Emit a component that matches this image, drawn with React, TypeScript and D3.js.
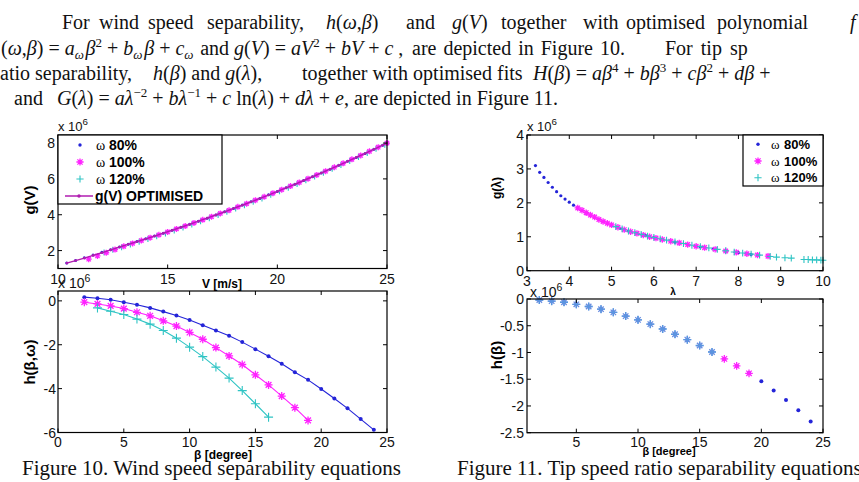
import React from "react";
import * as d3 from "d3";

// Figure 10 top: g(V) against wind speed
const optV = [10.4, 10.8, 11.2, 11.6, 12.0, 12.4, 12.8, 13.2, 13.6, 14.0, 14.4, 14.8, 15.2, 15.6, 16.0, 16.4, 16.8, 17.2, 17.6, 18.0, 18.4, 18.8, 19.2, 19.6, 20.0, 20.4, 20.8, 21.2, 21.6, 22.0, 22.4, 22.8, 23.2, 23.6, 24.0, 24.4, 24.8, 25.0];
const optG = [1.30, 1.44, 1.58, 1.73, 1.88, 2.04, 2.20, 2.35, 2.50, 2.65, 2.81, 2.97, 3.13, 3.30, 3.46, 3.64, 3.81, 3.99, 4.16, 4.35, 4.53, 4.72, 4.91, 5.10, 5.30, 5.50, 5.70, 5.91, 6.12, 6.33, 6.54, 6.76, 6.98, 7.20, 7.42, 7.65, 7.88, 8.00];
const gV80 = [10.4, 10.8, 11.2, 11.6, 12.0, 12.4, 12.8, 13.2, 13.6, 14.0, 14.4, 14.8, 15.2, 15.6, 16.0, 16.4, 16.8, 17.2, 17.6, 18.0, 18.4, 18.8, 19.2, 19.6, 20.0, 20.4, 20.8, 21.2, 21.6, 22.0, 22.4, 22.8, 23.2, 23.6, 24.0, 24.4, 24.8];
const gG80 = [1.30, 1.45, 1.60, 1.75, 1.90, 2.05, 2.20, 2.35, 2.50, 2.66, 2.81, 2.97, 3.13, 3.30, 3.47, 3.64, 3.81, 3.99, 4.17, 4.35, 4.54, 4.72, 4.91, 5.11, 5.30, 5.50, 5.70, 5.91, 6.12, 6.33, 6.54, 6.76, 6.98, 7.20, 7.42, 7.65, 7.88];
const gV100 = [11.4, 11.8, 12.2, 12.6, 13.0, 13.4, 13.8, 14.2, 14.6, 15.0, 15.4, 15.8, 16.2, 16.6, 17.0, 17.4, 17.8, 18.2, 18.6, 19.0, 19.4, 19.8, 20.2, 20.6, 21.0, 21.4, 21.8, 22.2, 22.6, 23.0, 23.4, 23.8, 24.2, 24.6, 25.0];
const gG100 = [1.52, 1.70, 1.88, 2.06, 2.24, 2.40, 2.56, 2.72, 2.88, 3.04, 3.21, 3.37, 3.54, 3.72, 3.89, 4.07, 4.25, 4.44, 4.62, 4.81, 5.00, 5.20, 5.40, 5.60, 5.80, 6.01, 6.22, 6.43, 6.65, 6.87, 7.09, 7.31, 7.54, 7.77, 8.00];
const gV120 = [12.1, 12.5, 12.9, 13.3, 13.7, 14.1, 14.5, 14.9, 15.3, 15.7, 16.1, 16.5, 16.9, 17.3, 17.7, 18.1, 18.5, 18.9, 19.3, 19.7, 20.1, 20.5, 20.9, 21.3, 21.7, 22.1, 22.5, 22.9, 23.3, 23.7, 24.1, 24.5, 24.9];
const gG120 = [1.89, 2.04, 2.19, 2.34, 2.49, 2.64, 2.80, 2.96, 3.12, 3.29, 3.46, 3.63, 3.81, 3.98, 4.16, 4.35, 4.53, 4.72, 4.91, 5.11, 5.31, 5.51, 5.71, 5.92, 6.13, 6.34, 6.56, 6.78, 7.00, 7.22, 7.45, 7.68, 7.91];

// Figure 10 bottom: h(beta, omega)
const hBeta80 = [2, 3, 4, 5, 6, 7, 8, 9, 10, 11, 12, 13, 14, 15, 16, 17, 18, 19, 20, 21, 22, 23, 24];
const hVal80 = [0.17, 0.12, 0.05, -0.06, -0.18, -0.32, -0.49, -0.67, -0.87, -1.11, -1.35, -1.59, -1.88, -2.2, -2.52, -2.87, -3.25, -3.6, -4.02, -4.45, -4.9, -5.39, -5.88];
const hBeta100 = [2, 3, 4, 5, 6, 7, 8, 9, 10, 11, 12, 13, 14, 15, 16, 17, 18, 19];
const hVal100 = [-0.06, -0.14, -0.23, -0.35, -0.52, -0.68, -0.91, -1.15, -1.44, -1.75, -2.13, -2.51, -2.9, -3.37, -3.83, -4.34, -4.87, -5.45];
const hBeta120 = [3, 4, 5, 6, 7, 8, 9, 10, 11, 12, 13, 14, 15, 16];
const hVal120 = [-0.32, -0.47, -0.62, -0.83, -1.06, -1.35, -1.7, -2.11, -2.54, -3.02, -3.52, -4.09, -4.69, -5.3];

// Figure 11 top: g(lambda)
const lam80 = [3.2, 3.3, 3.4, 3.5, 3.6, 3.7, 3.8, 3.9, 4.0, 4.1, 4.2, 4.4, 4.6, 4.8, 5.0, 5.2, 5.4, 5.6, 5.8, 6.0, 6.2, 6.5, 6.8, 7.1, 7.4, 7.7, 8.0, 8.3];
const gl80 = [3.1, 2.9, 2.75, 2.6, 2.46, 2.33, 2.21, 2.11, 2.02, 1.93, 1.85, 1.70, 1.57, 1.45, 1.34, 1.25, 1.17, 1.10, 1.04, 0.98, 0.92, 0.84, 0.77, 0.70, 0.64, 0.58, 0.53, 0.48];
const lam100 = [4.2, 4.3, 4.4, 4.5, 4.6, 4.7, 4.8, 4.9, 5.0, 5.15, 5.3, 5.45, 5.6, 5.75, 5.9, 6.05, 6.2, 6.4, 6.6, 6.8, 7.0, 7.2, 7.45, 7.7, 7.95, 8.2, 8.45, 8.7];
const gl100 = [1.85, 1.78, 1.71, 1.64, 1.58, 1.51, 1.45, 1.40, 1.35, 1.28, 1.21, 1.15, 1.10, 1.05, 1.00, 0.96, 0.92, 0.87, 0.82, 0.77, 0.72, 0.68, 0.63, 0.58, 0.54, 0.50, 0.46, 0.43];
const lam120 = [5.1, 5.25, 5.4, 5.55, 5.7, 5.85, 6.0, 6.15, 6.3, 6.5, 6.7, 6.9, 7.1, 7.3, 7.5, 7.7, 7.9, 8.1, 8.3, 8.5, 8.75, 8.9, 9.1, 9.25, 9.55, 9.65, 9.75, 9.85, 9.95, 10.0];
const gl120 = [1.30, 1.23, 1.17, 1.12, 1.07, 1.02, 0.98, 0.94, 0.90, 0.85, 0.80, 0.75, 0.71, 0.67, 0.63, 0.59, 0.55, 0.52, 0.49, 0.46, 0.42, 0.40, 0.38, 0.37, 0.33, 0.33, 0.32, 0.32, 0.31, 0.31];

// Figure 11 bottom: h(beta), the three speeds share the same values
const tBeta = [2, 3, 4, 5, 6, 7, 8, 9, 10, 11, 12, 13, 14, 15, 16, 17, 18, 19, 20, 21, 22, 23, 24];
const tH = [-0.02, -0.04, -0.06, -0.1, -0.14, -0.19, -0.25, -0.32, -0.39, -0.47, -0.56, -0.66, -0.76, -0.87, -0.99, -1.12, -1.25, -1.39, -1.54, -1.71, -1.89, -2.08, -2.29];
const tCount100 = 18;
const tCount120 = 15;

const ticksA = { x: [10, 15, 20, 25], y: [2, 4, 6, 8] };
const ticksB = { x: [0, 5, 10, 15, 20, 25], y: [0, -2, -4, -6] };
const ticksC = { x: [3, 4, 5, 6, 7, 8, 9, 10], y: [0, 1, 2, 3, 4] };
const ticksD = { x: [5, 10, 15, 20, 25], y: [0, -0.5, -1, -1.5, -2, -2.5] };

const BLUE = "#2424d8";
const MAG = "#ff22ff";
const CYAN = "#2ec4c4";
const MIX = "#6a8ee0"; // where magenta and cyan markers sit on top of each other
const PURPLE = "#b01cb0";
const SANS = "'Liberation Sans', Arial, sans-serif";
const SERIF = "'Liberation Serif', 'Times New Roman', serif";

type Sc = d3.ScaleLinear<number, number>;

const Dot = ({ x, y, c, r = 1.7 }: any) => <circle cx={x} cy={y} r={r} fill={c} />;
const Star = ({ x, y, c, s = 3.6 }: any) => {
  const d = s * 0.72;
  return (
    <path
      d={`M${x - s},${y}H${x + s}M${x},${y - s}V${y + s}M${x - d},${y - d}L${x + d},${y + d}M${x - d},${y + d}L${x + d},${y - d}`}
      stroke={c}
      strokeWidth={1.3}
      fill="none"
    />
  );
};
const Plus = ({ x, y, c, s = 3.6, w = 1.1 }: any) => (
  <path d={`M${x - s},${y}H${x + s}M${x},${y - s}V${y + s}`} stroke={c} strokeWidth={w} fill="none" />
);

function Axes({ x, y, ticks, xBase, yGap = 3, fs = 14 }: { x: Sc; y: Sc; ticks: any; xBase: number; yGap?: number; fs?: number }) {
  const [x0, x1] = x.range();
  const [y0, y1] = y.range();
  const t = 4;
  return (
    <g fontFamily={SANS} fontSize={fs} fill="#111">
      <rect x={x0} y={y1} width={x1 - x0} height={y0 - y1} fill="none" stroke="#000" strokeWidth={1.2} />
      {ticks.x.map((v: number) => (
        <g key={"x" + v}>
          <line x1={x(v)} x2={x(v)} y1={y0} y2={y0 - t} stroke="#000" />
          <line x1={x(v)} x2={x(v)} y1={y1} y2={y1 + t} stroke="#000" />
          <text x={x(v)} y={xBase} textAnchor="middle">{String(v)}</text>
        </g>
      ))}
      {ticks.y.map((v: number) => (
        <g key={"y" + v}>
          <line x1={x0} x2={x0 + t} y1={y(v)} y2={y(v)} stroke="#000" />
          <line x1={x1} x2={x1 - t} y1={y(v)} y2={y(v)} stroke="#000" />
          <text x={x0 - yGap} y={y(v) + fs * 0.36} textAnchor="end">{String(v)}</text>
        </g>
      ))}
    </g>
  );
}

const Exp = ({ x, y, fs = 13 }: any) => (
  <text x={x} y={y} fontFamily={SANS} fontSize={fs} fill="#111">
    x 10<tspan dy={-6} fontSize={fs * 0.75}>6</tspan>
  </text>
);

const I = ({ children }: any) => <tspan fontStyle="italic">{children}</tspan>;
const Sup = ({ children }: any) => (
  <>
    <tspan dy={-8} fontSize={13}>{children}</tspan>
    <tspan dy={8}>{" "}</tspan>
  </>
);
const Sub = ({ children }: any) => (
  <>
    <tspan dy={4} fontSize={13} fontStyle="italic">{children}</tspan>
    <tspan dy={-4}>{"\u200a"}</tspan>
  </>
);

export default function App() {
  // top-left: g(V)
  const xA = d3.scaleLinear().domain([10, 25]).range([58, 387]);
  const yA = d3.scaleLinear().domain([1, 8.45]).range([268.5, 135]);
  // bottom-left: h(beta, omega)
  const xB = d3.scaleLinear().domain([0, 25]).range([58, 387]);
  const yB = d3.scaleLinear().domain([-6, 0.45]).range([432.5, 291]);
  // top-right: g(lambda)
  const xC = d3.scaleLinear().domain([3, 10]).range([527, 823]);
  const yC = d3.scaleLinear().domain([0, 4]).range([270.7, 135]);
  // bottom-right: h(beta)
  const xD = d3.scaleLinear().domain([1, 25]).range([527, 823]);
  const yD = d3.scaleLinear().domain([-2.5, 0]).range([432.7, 299]);

  const lineA = d3.line<number>().x((_, i) => xA(optV[i])).y((g) => yA(g));
  const lineB = (bs: number[]) => d3.line<number>().x((_, i) => xB(bs[i])).y((h) => yB(h));

  return (
    <svg width={859} height={482} style={{ position: "absolute", left: 0, top: 0, background: "#fff" }}>
      <rect width={859} height={482} fill="#fff" />

      {/* paragraph */}
      <g fontFamily={SERIF} fontSize={20} fill="#111">
        <text y={29}>
          <tspan x={62}>For</tspan>
          <tspan x={99}>wind</tspan>
          <tspan x={148}>speed</tspan>
          <tspan x={207}>separability,</tspan>
          <tspan x={326}><I>h</I>(<I>ω</I>,<I>β</I>)</tspan>
          <tspan x={406}>and</tspan>
          <tspan x={452}><I>g</I>(<I>V</I>)</tspan>
          <tspan x={501}>together</tspan>
          <tspan x={583}>with</tspan>
          <tspan x={626}>optimised</tspan>
          <tspan x={717}>polynomial</tspan>
          <tspan x={850}><I>f</I></tspan>
        </text>
        <text y={55}>
          <tspan x={1}>(<I>ω</I>,<I>β</I>) = <I>a</I></tspan>
          <Sub>ω</Sub>
          <I>β</I>
          <Sup>2</Sup>
          <tspan>+ <I>b</I></tspan>
          <Sub>ω</Sub>
          <tspan><I>β</I> + <I>c</I></tspan>
          <Sub>ω</Sub>
          <tspan> and  <I>g</I>(<I>V</I>) = <I>aV</I></tspan>
          <Sup>2</Sup>
          <tspan>+ <I>bV</I> + <I>c</I> ,</tspan>
          <tspan x={412} wordSpacing={2}>are depicted in Figure 10.</tspan>
          <tspan x={665} wordSpacing={3}>For tip sp</tspan>
        </text>
        <text y={80}>
          <tspan x={0}>atio separability,</tspan>
          <tspan x={153}><I>h</I>(<I>β</I>) and <I>g</I>(<I>λ</I>),</tspan>
          <tspan x={302}>together with optimised fits</tspan>
          <tspan x={533}><I>H</I>(<I>β</I>) = <I>aβ</I></tspan>
          <Sup>4</Sup>
          <tspan>+ <I>bβ</I></tspan>
          <Sup>3</Sup>
          <tspan>+ <I>cβ</I></tspan>
          <Sup>2</Sup>
          <tspan>+ <I>dβ</I> +</tspan>
        </text>
        <text y={105}>
          <tspan x={14}>and</tspan>
          <tspan x={57}><I>G</I>(<I>λ</I>) = <I>aλ</I></tspan>
          <Sup>−2</Sup>
          <tspan>+ <I>bλ</I></tspan>
          <Sup>−1</Sup>
          <tspan>+ <I>c</I> ln(<I>λ</I>) + <I>dλ</I> + <I>e</I>, are depicted in Figure 11.</tspan>
        </text>
      </g>

      {/* ---------- top-left ---------- */}
      <Exp x={58} y={131} />
      <Exp x={527} y={131} />
      {gV80.map((v, i) => <Dot key={"a80" + i} x={xA(v)} y={yA(gG80[i])} c={BLUE} r={1.5} />)}
      {gV120.map((v, i) => <Plus key={"a120" + i} x={xA(v)} y={yA(gG120[i])} c={CYAN} s={3} />)}
      {gV100.map((v, i) => <Star key={"a100" + i} x={xA(v)} y={yA(gG100[i])} c={MAG} s={3} />)}
      <path d={lineA(optG) || ""} fill="none" stroke={PURPLE} strokeWidth={1.4} />
      {optV.map((v, i) => <Dot key={"ao" + i} x={xA(v)} y={yA(optG[i])} c={PURPLE} r={1.3} />)}
      <Axes x={xA} y={yA} ticks={ticksA} xBase={284} />
      {/* legend A */}
      <g>
        <rect x={58} y={135} width={164} height={69} fill="#fff" stroke="#000" strokeWidth={1.2} />
        <Dot x={80} y={145} c={BLUE} />
        <Star x={80} y={162} c={MAG} />
        <Plus x={80} y={179} c={CYAN} />
        <line x1={65} x2={93} y1={196} y2={196} stroke={PURPLE} strokeWidth={1.5} />
        <Dot x={79} y={196} c={PURPLE} />
        {["80%", "100%", "120%"].map((s, i) => (
          <text key={s} y={150 + i * 17} fontSize={14}>
            <tspan x={96} fontFamily={SERIF}>ω</tspan>
            <tspan x={109} fontFamily={SANS} fontWeight="bold">{s}</tspan>
          </text>
        ))}
        <text x={95} y={201} fontFamily={SANS} fontWeight="bold" fontSize={14}>g(V) OPTIMISED</text>
      </g>
      <text x={222} y={288} textAnchor="middle" fontFamily={SANS} fontWeight="bold" fontSize={12}>V [m/s]</text>
      <text transform="translate(35,200) rotate(-90)" textAnchor="middle" fontFamily={SANS} fontWeight="bold" fontSize={15}>g(V)</text>

      {/* ---------- bottom-left ---------- */}
      <rect x={58} y={291} width={329} height={141.5} fill="#fff" />
      <path d={lineB(hBeta80)(hVal80) || ""} fill="none" stroke={BLUE} strokeWidth={1.1} />
      <path d={lineB(hBeta100)(hVal100) || ""} fill="none" stroke={MAG} strokeWidth={1.1} />
      <path d={lineB(hBeta120)(hVal120) || ""} fill="none" stroke={CYAN} strokeWidth={1.1} />
      {hBeta80.map((b, i) => <Dot key={"b80" + i} x={xB(b)} y={yB(hVal80[i])} c={BLUE} r={2} />)}
      {hBeta100.map((b, i) => <Star key={"b100" + i} x={xB(b)} y={yB(hVal100[i])} c={MAG} s={4} />)}
      {hBeta120.map((b, i) => <Plus key={"b120" + i} x={xB(b)} y={yB(hVal120[i])} c={CYAN} s={4.5} />)}
      <Axes x={xB} y={yB} ticks={ticksB} xBase={447} yGap={2} />
      <Exp x={58} y={288} fs={14} />
      <text x={223} y={459} textAnchor="middle" fontFamily={SANS} fontWeight="bold" fontSize={12}>β [degree]</text>
      <text transform="translate(35,362) rotate(-90)" textAnchor="middle" fontFamily={SANS} fontWeight="bold" fontSize={15}>h(β,ω)</text>

      {/* ---------- top-right ---------- */}
      {lam80.map((l, i) => <Dot key={"c80" + i} x={xC(l)} y={yC(gl80[i])} c={BLUE} r={1.6} />)}
      {lam100.map((l, i) => <Star key={"c100" + i} x={xC(l)} y={yC(gl100[i])} c={MAG} s={3.2} />)}
      {lam120.map((l, i) => <Plus key={"c120" + i} x={xC(l)} y={yC(gl120[i])} c={CYAN} s={3.4} />)}
      <Axes x={xC} y={yC} ticks={ticksC} xBase={286} />
      <g>
        <rect x={743} y={135} width={80} height={51} fill="#fff" stroke="#000" strokeWidth={1.2} />
        <Dot x={758} y={144.3} c={BLUE} />
        <Star x={758} y={161} c={MAG} />
        <Plus x={758} y={177.7} c={CYAN} />
        {["80%", "100%", "120%"].map((s, i) => (
          <text key={s} y={149 + i * 16.7} fontSize={13}>
            <tspan x={771} fontFamily={SERIF}>ω</tspan>
            <tspan x={784} fontFamily={SANS} fontWeight="bold">{s}</tspan>
          </text>
        ))}
      </g>
      <text x={673} y={295} textAnchor="middle" fontFamily={SANS} fontWeight="bold" fontSize={10}>λ</text>
      <text transform="translate(501,188) rotate(-90)" textAnchor="middle" fontFamily={SANS} fontWeight="bold" fontSize={12}>g(λ)</text>

      {/* ---------- bottom-right ---------- */}
      <rect x={527} y={299} width={296} height={133.7} fill="#fff" />
      {tBeta.map((b, i) => <Dot key={"d80" + i} x={xD(b)} y={yD(tH[i])} c={BLUE} r={2} />)}
      {tBeta.slice(0, tCount100).map((b, i) => (
        <Star key={"d100" + i} x={xD(b)} y={yD(tH[i])} c={i < tCount120 ? MIX : MAG} s={3.8} />
      ))}
      {tBeta.slice(0, tCount120).map((b, i) => <Plus key={"d120" + i} x={xD(b)} y={yD(tH[i])} c="#5a96e0" s={4} w={1.4} />)}
      <Axes x={xD} y={yD} ticks={ticksD} xBase={447} />
      <Exp x={530} y={297} fs={14} />
      <text x={669} y={455} textAnchor="middle" fontFamily={SANS} fontWeight="bold" fontSize={11}>β [degree]</text>
      <text transform="translate(502,355) rotate(-90)" textAnchor="middle" fontFamily={SANS} fontWeight="bold" fontSize={15}>h(β)</text>

      {/* captions */}
      <text x={22} y={475} fontFamily={SERIF} fontSize={21} fill="#111">Figure 10. Wind speed separability equations</text>
      <text x={457} y={475} fontFamily={SERIF} fontSize={21} fill="#111">Figure 11. Tip speed ratio separability equations</text>
    </svg>
  );
}
